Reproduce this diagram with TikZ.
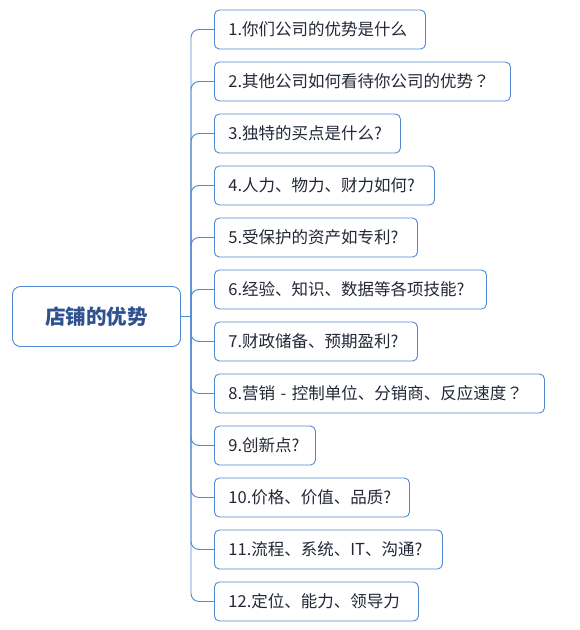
\documentclass[tikz,border=0pt]{standalone}
\usepackage{fontspec}
\setmainfont{Noto Sans CJK SC}
\newfontfamily\tcfont{Noto Sans CJK TC}
\definecolor{lineblue}{RGB}{79,136,211}
\definecolor{roottext}{RGB}{47,82,143}
\definecolor{leaftext}{RGB}{35,40,55}
\begin{document}
\begin{tikzpicture}[x=1pt,y=-1pt,
  leaf/.style={draw=lineblue, line width=0.9pt, rounded corners=5pt, anchor=west,
    minimum height=39pt, inner xsep=14pt, inner ysep=0pt, align=left,
    font=\fontsize{16.5}{18}\selectfont, text=leaftext},
  rootbox/.style={draw=lineblue, line width=0.9pt, rounded corners=8pt,
    minimum width=168pt, minimum height=60pt, inner sep=0pt,
    font=\fontsize{20.5}{22}\selectfont\bfseries, text=roottext},
  link/.style={draw=lineblue, line width=0.9pt, rounded corners=8pt}]
\useasboundingbox[fill=white] (0,0) rectangle (580,630);
\node[rootbox] (root) at (96.5,316.5) {店铺的优势};
\coordinate (j) at (191,316.5);
\node[leaf, text width=183pt] (c1) at (214,29.5) {1.你们公司的优势是什么};
\node[leaf, text width=268pt] (c2) at (214,81.5) {2.其他公司如何看待你公司的优势{\tcfont ？}};
\node[leaf, text width=158pt] (c3) at (214,133.5) {3.独特的买点是什么?};
\node[leaf, text width=192pt] (c4) at (214,185.5) {4.人力、物力、财力如何?};
\node[leaf, text width=175pt] (c5) at (214,237.5) {5.受保护的资产如专利?};
\node[leaf, text width=244pt] (c6) at (214,289.5) {6.经验、知识、数据等各项技能?};
\node[leaf, text width=175pt] (c7) at (214,341.5) {7.财政储备、预期盈利?};
\node[leaf, text width=302pt] (c8) at (214,393.5) {8.营销 - 控制单位、分销商、反应速度{\tcfont ？}};
\node[leaf, text width=73pt] (c9) at (214,445.5) {9.创新点?};
\node[leaf, text width=167pt] (c10) at (214,497.5) {10.价格、价值、品质?};
\node[leaf, text width=200pt] (c11) at (214,549.5) {11.流程、系统、IT、沟通?};
\node[leaf, text width=176pt] (c12) at (214,601.5) {12.定位、能力、领导力};
\draw[link] (root.east) -- (j);
\foreach \i in {1,...,12} {\draw[link] (j) |- (c\i.west);}
\end{tikzpicture}
\end{document}
